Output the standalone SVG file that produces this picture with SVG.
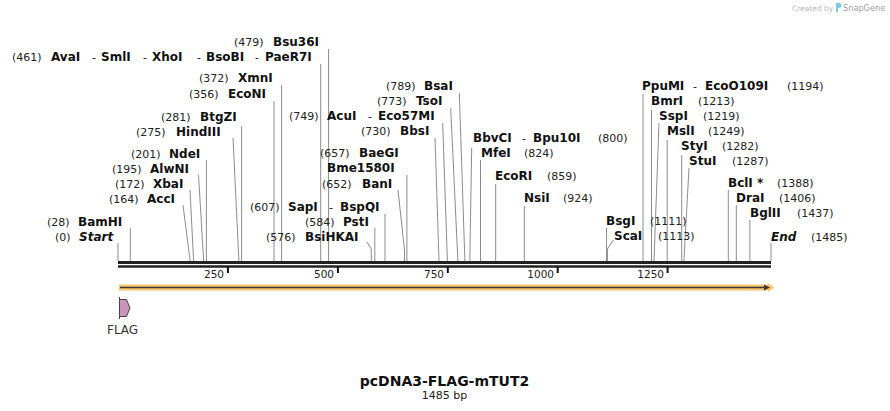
<svg xmlns="http://www.w3.org/2000/svg" width="890" height="411" viewBox="0 0 890 411">
<style>
text{font-family:"DejaVu Sans","Verdana",sans-serif;fill:#111}
.n{font-size:11px;fill:#222}
.b{font-size:12px;font-weight:bold}
.bi{font-size:12px;font-weight:bold;font-style:italic}
.d{font-size:11px}
.c{fill:none;stroke:#8c8c8c;stroke-width:1}
.tk{font-size:10.5px;fill:#222;text-anchor:end}
</style>
<rect width="890" height="411" fill="#fff"/>
<g id="watermark">
<text x="792" y="11" style="font-size:7.5px;fill:#b8b8b8">Created by</text>
<path d="M836,3 h3 a2.5,2.5 0 0 1 0,5 h-1 v4 h-2 z" fill="#7fc6e8"/>
<text x="843" y="11" style="font-size:8.2px;fill:#a0a0a0">SnapGene</text>
</g>
<g id="connectors">
<path class="c" d="M320.7,64V261M328.6,49V261M281.6,85V261M274,101V261M241.6,126V261M233,138L238.9,261M206.4,160V261M198.5,175L203.7,261M190,190L193.6,261M183,205L190.1,261M130.3,228V261M118,243V261"/>
<path class="c" d="M385,214V261M374.8,228V261M367,242L371.3,249V261M398,190L404.5,250V261M406.9,175V261M435,138L439,261M442.7,123L447.4,261M450.7,108L457.9,261M459.3,93L464.9,261"/>
<path class="c" d="M471.7,148L469.8,261M480.5,160V261M495.7,184V261M524.3,206V261M606.5,228V261M613.3,240L607.4,249V261M643,94V261M651.5,110V261M659,123L654,261M667.2,140V261M681.7,155V261M689,168L683.9,261M728.3,190V261M736.3,205V261M749.9,220V261M771,243V261"/>
</g>
<g id="sequence-axis">
<line x1="118" y1="262.5" x2="771" y2="262.5" stroke="#222" stroke-width="3"/>
<line x1="118" y1="266.5" x2="771" y2="266.5" stroke="#222" stroke-width="2.5"/>
<path d="M227.9,267V273M337.9,267V273M447.8,267V273M557.7,267V273M667.6,267V273" stroke="#111" stroke-width="2"/>
<text class="tk" x="224" y="278">250</text>
<text class="tk" x="334" y="278">500</text>
<text class="tk" x="444" y="278">750</text>
<text class="tk" x="554" y="278">1000</text>
<text class="tk" x="664" y="278">1250</text>
</g>
<g id="orf-arrow">
<path d="M119,287.5H768" stroke="#f9c56a" stroke-width="6"/>
<path d="M768,283 L774,287.5 L768,292 z" fill="#f9c56a"/>
<path d="M120,287.5H765" stroke="#3a3a3a" stroke-width="1.5"/>
<path d="M764,284.5 L770,287.5 L764,290.5 z" fill="#3a3a3a"/>
</g>
<g id="feature-FLAG">
<line x1="119.5" y1="297" x2="119.5" y2="319" stroke="#444" stroke-width="1"/>
<path d="M119.5,299.5H126.5L130,308L126.5,316.5H119.5z" fill="#c994b8" stroke="#444" stroke-width="1"/>
<text x="107" y="334" style="font-size:12px;fill:#333">FLAG</text>
</g>
<g id="title">
<text x="444.5" y="386" text-anchor="middle" style="font-size:14px;font-weight:bold">pcDNA3-FLAG-mTUT2</text>
<text x="444.5" y="399" text-anchor="middle" style="font-size:11px;fill:#222">1485 bp</text>
</g>
<g id="site-461"><text class="n" x="12" y="61">(461)</text><text class="b" x="51" y="61">AvaI</text><text class="d" x="92" y="61">-</text><text class="b" x="101" y="61">SmlI</text><text class="d" x="143" y="61">-</text><text class="b" x="152" y="61">XhoI</text><text class="d" x="197" y="61">-</text><text class="b" x="206" y="61">BsoBI</text><text class="d" x="255" y="61">-</text><text class="b" x="265" y="61">PaeR7I</text></g>
<g id="site-479"><text class="n" x="234" y="46">(479)</text><text class="b" x="273" y="46">Bsu36I</text></g>
<g id="site-372"><text class="n" x="199" y="82">(372)</text><text class="b" x="238" y="82">XmnI</text></g>
<g id="site-356"><text class="n" x="189" y="98">(356)</text><text class="b" x="228" y="98">EcoNI</text></g>
<g id="site-281"><text class="n" x="161" y="121">(281)</text><text class="b" x="200" y="121">BtgZI</text></g>
<g id="site-275"><text class="n" x="136" y="136">(275)</text><text class="b" x="176" y="136">HindIII</text></g>
<g id="site-201"><text class="n" x="131" y="158">(201)</text><text class="b" x="169" y="158">NdeI</text></g>
<g id="site-195"><text class="n" x="112" y="173">(195)</text><text class="b" x="150" y="173">AlwNI</text></g>
<g id="site-172"><text class="n" x="115" y="188">(172)</text><text class="b" x="153" y="188">XbaI</text></g>
<g id="site-164"><text class="n" x="109" y="203">(164)</text><text class="b" x="147" y="203">AccI</text></g>
<g id="site-28"><text class="n" x="47" y="226">(28)</text><text class="b" x="78" y="226">BamHI</text></g>
<g id="site-0"><text class="n" x="55" y="241">(0)</text><text class="bi" x="79" y="241">Start</text></g>
<g id="site-607"><text class="n" x="250" y="211">(607)</text><text class="b" x="288" y="211">SapI</text><text class="d" x="329" y="211">-</text><text class="b" x="340" y="211">BspQI</text></g>
<g id="site-584"><text class="n" x="305" y="226">(584)</text><text class="b" x="343" y="226">PstI</text></g>
<g id="site-576"><text class="n" x="266" y="241">(576)</text><text class="b" x="305" y="241">BsiHKAI</text></g>
<g id="site-652"><text class="n" x="322" y="188">(652)</text><text class="b" x="362" y="188">BanI</text></g>
<g id="site-657b"><text class="b" x="327" y="172">Bme1580I</text></g>
<g id="site-657"><text class="n" x="320" y="157">(657)</text><text class="b" x="359" y="157">BaeGI</text></g>
<g id="site-730"><text class="n" x="361" y="135">(730)</text><text class="b" x="400" y="135">BbsI</text></g>
<g id="site-749"><text class="n" x="289" y="120">(749)</text><text class="b" x="327" y="120">AcuI</text><text class="d" x="368" y="120">-</text><text class="b" x="378" y="120">Eco57MI</text></g>
<g id="site-773"><text class="n" x="377" y="105">(773)</text><text class="b" x="416" y="105">TsoI</text></g>
<g id="site-789"><text class="n" x="386" y="90">(789)</text><text class="b" x="424" y="90">BsaI</text></g>
<g id="site-800"><text class="b" x="473" y="142">BbvCI</text><text class="d" x="522" y="142">-</text><text class="b" x="533" y="142">Bpu10I</text><text class="n" x="598" y="142">(800)</text></g>
<g id="site-824"><text class="b" x="481" y="157">MfeI</text><text class="n" x="524" y="157">(824)</text></g>
<g id="site-859"><text class="b" x="495" y="180">EcoRI</text><text class="n" x="547" y="180">(859)</text></g>
<g id="site-924"><text class="b" x="524" y="202">NsiI</text><text class="n" x="563" y="202">(924)</text></g>
<g id="site-1111"><text class="b" x="606" y="225">BsgI</text><text class="n" x="650" y="225">(1111)</text></g>
<g id="site-1113"><text class="b" x="614" y="240">ScaI</text><text class="n" x="658" y="240">(1113)</text></g>
<g id="site-1194"><text class="b" x="642" y="90">PpuMI</text><text class="d" x="693" y="90">-</text><text class="b" x="705" y="90">EcoO109I</text><text class="n" x="787" y="90">(1194)</text></g>
<g id="site-1213"><text class="b" x="651" y="105">BmrI</text><text class="n" x="698" y="105">(1213)</text></g>
<g id="site-1219"><text class="b" x="659" y="120">SspI</text><text class="n" x="703" y="120">(1219)</text></g>
<g id="site-1249"><text class="b" x="667" y="135">MslI</text><text class="n" x="708" y="135">(1249)</text></g>
<g id="site-1282"><text class="b" x="681" y="150">StyI</text><text class="n" x="722" y="150">(1282)</text></g>
<g id="site-1287"><text class="b" x="689" y="165">StuI</text><text class="n" x="732" y="165">(1287)</text></g>
<g id="site-1388"><text class="b" x="728" y="187">BclI *</text><text class="n" x="777" y="187">(1388)</text></g>
<g id="site-1406"><text class="b" x="736" y="202">DraI</text><text class="n" x="779" y="202">(1406)</text></g>
<g id="site-1437"><text class="b" x="750" y="217">BglII</text><text class="n" x="797" y="217">(1437)</text></g>
<g id="site-1485"><text class="bi" x="771" y="241">End</text><text class="n" x="811" y="241">(1485)</text></g>
</svg>
